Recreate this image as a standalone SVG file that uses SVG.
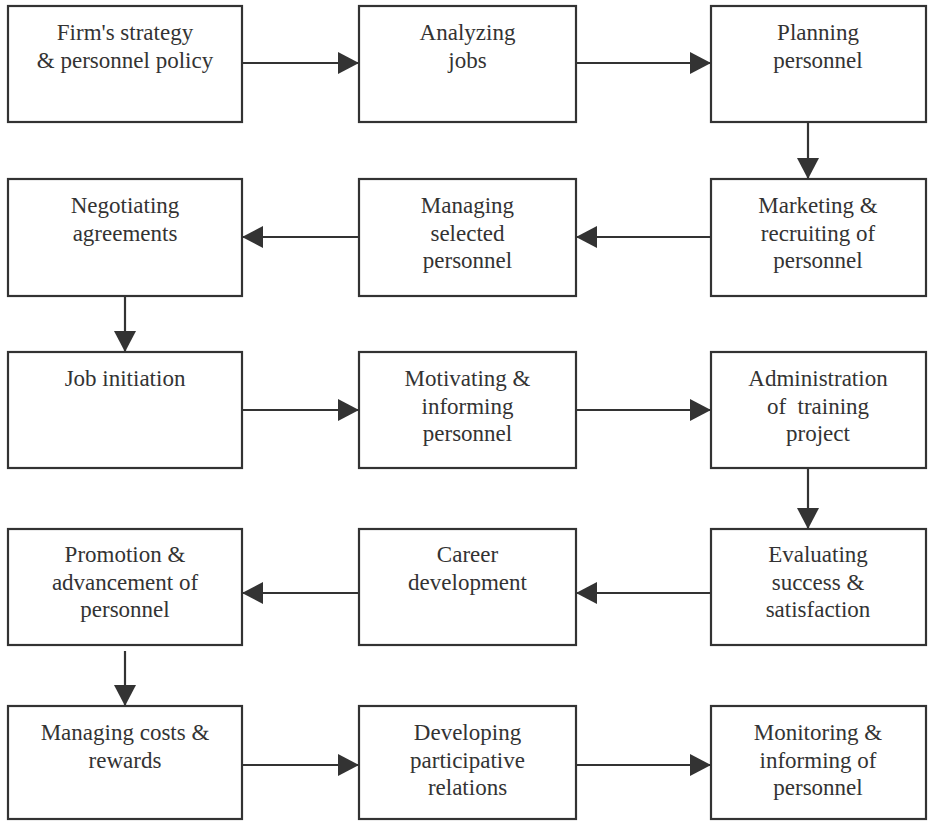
<svg xmlns="http://www.w3.org/2000/svg" width="930" height="822" viewBox="0 0 930 822">
<style>
.box{fill:#fff;stroke:#333;stroke-width:2.2}
.t{font-family:'Liberation Serif','Times New Roman','DejaVu Serif',serif;font-size:23px;fill:#333;text-anchor:middle}
.c{stroke:#333;stroke-width:2.2;fill:none}
</style>
<defs>
<marker id="ah" markerUnits="userSpaceOnUse" markerWidth="22" markerHeight="22" refX="21" refY="11" orient="auto">
<path d="M0,0 L21,11 L0,22 z" fill="#333"/>
</marker>
</defs>
<rect width="930" height="822" fill="#fff"/>
<g font-family="Liberation Serif, Times New Roman, DejaVu Serif, serif">
<g id="n1"><rect class="box" x="8" y="6" width="234" height="116"/><text class="t" x="125" y="40">Firm's strategy</text><text class="t" x="125" y="68">&amp; personnel policy</text></g>
<g id="n2"><rect class="box" x="359" y="6" width="217" height="116"/><text class="t" x="467.5" y="40">Analyzing</text><text class="t" x="467.5" y="68">jobs</text></g>
<g id="n3"><rect class="box" x="711" y="6" width="215" height="116"/><text class="t" x="818" y="40">Planning</text><text class="t" x="818" y="68">personnel</text></g>
<g id="n4"><rect class="box" x="711" y="179" width="215" height="117"/><text class="t" x="818" y="213">Marketing &amp;</text><text class="t" x="818" y="241">recruiting of</text><text class="t" x="818" y="268">personnel</text></g>
<g id="n5"><rect class="box" x="359" y="179" width="217" height="117"/><text class="t" x="467.5" y="213">Managing</text><text class="t" x="467.5" y="241">selected</text><text class="t" x="467.5" y="268">personnel</text></g>
<g id="n6"><rect class="box" x="8" y="179" width="234" height="117"/><text class="t" x="125" y="213">Negotiating</text><text class="t" x="125" y="241">agreements</text></g>
<g id="n7"><rect class="box" x="8" y="352" width="234" height="116"/><text class="t" x="125" y="386">Job initiation</text></g>
<g id="n8"><rect class="box" x="359" y="352" width="217" height="116"/><text class="t" x="467.5" y="386">Motivating &amp;</text><text class="t" x="467.5" y="414">informing</text><text class="t" x="467.5" y="441">personnel</text></g>
<g id="n9"><rect class="box" x="711" y="352" width="215" height="116"/><text class="t" x="818" y="386">Administration</text><text class="t" x="818" y="414" xml:space="preserve">of  training</text><text class="t" x="818" y="441">project</text></g>
<g id="n10"><rect class="box" x="711" y="529" width="215" height="116"/><text class="t" x="818" y="562">Evaluating</text><text class="t" x="818" y="590">success &amp;</text><text class="t" x="818" y="617">satisfaction</text></g>
<g id="n11"><rect class="box" x="359" y="529" width="217" height="116"/><text class="t" x="467.5" y="562">Career</text><text class="t" x="467.5" y="590">development</text></g>
<g id="n12"><rect class="box" x="8" y="529" width="234" height="116"/><text class="t" x="125" y="562">Promotion &amp;</text><text class="t" x="125" y="590">advancement of</text><text class="t" x="125" y="617">personnel</text></g>
<g id="n13"><rect class="box" x="8" y="706" width="234" height="113"/><text class="t" x="125" y="740">Managing costs &amp;</text><text class="t" x="125" y="768">rewards</text></g>
<g id="n14"><rect class="box" x="359" y="706" width="217" height="113"/><text class="t" x="467.5" y="740">Developing</text><text class="t" x="467.5" y="768">participative</text><text class="t" x="467.5" y="795">relations</text></g>
<g id="n15"><rect class="box" x="711" y="706" width="215" height="113"/><text class="t" x="818" y="740">Monitoring &amp;</text><text class="t" x="818" y="768">informing of</text><text class="t" x="818" y="795">personnel</text></g>
</g>
<g id="connectors">
<line class="c" x1="242" y1="63" x2="359" y2="63" marker-end="url(#ah)"/>
<line class="c" x1="576" y1="63" x2="711" y2="63" marker-end="url(#ah)"/>
<line class="c" x1="808" y1="122" x2="808" y2="179" marker-end="url(#ah)"/>
<line class="c" x1="711" y1="237" x2="576" y2="237" marker-end="url(#ah)"/>
<line class="c" x1="359" y1="237" x2="242" y2="237" marker-end="url(#ah)"/>
<line class="c" x1="125" y1="296" x2="125" y2="352" marker-end="url(#ah)"/>
<line class="c" x1="242" y1="410" x2="359" y2="410" marker-end="url(#ah)"/>
<line class="c" x1="576" y1="410" x2="711" y2="410" marker-end="url(#ah)"/>
<line class="c" x1="808" y1="468" x2="808" y2="529" marker-end="url(#ah)"/>
<line class="c" x1="711" y1="593" x2="576" y2="593" marker-end="url(#ah)"/>
<line class="c" x1="359" y1="593" x2="242" y2="593" marker-end="url(#ah)"/>
<line class="c" x1="125" y1="651" x2="125" y2="706" marker-end="url(#ah)"/>
<line class="c" x1="242" y1="765" x2="359" y2="765" marker-end="url(#ah)"/>
<line class="c" x1="576" y1="765" x2="711" y2="765" marker-end="url(#ah)"/>
</g>
</svg>
